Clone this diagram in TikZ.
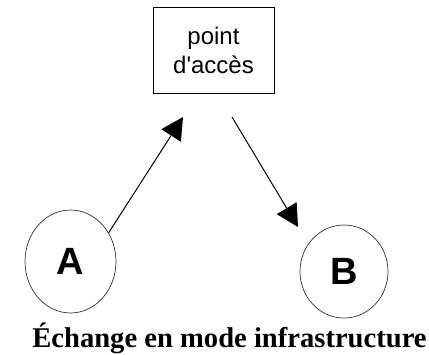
\documentclass[tikz,border=0pt]{standalone}
\usepackage{fontspec}
\setmainfont{Liberation Serif}
\newfontfamily\arial{Liberation Sans}
\usetikzlibrary{arrows.meta,shapes.geometric}
\begin{document}
\begin{tikzpicture}[x=1pt, y=1pt,
		station/.style={ellipse, draw=black!80, line width=0.7pt, minimum width=91pt, minimum height=103pt, inner sep=0pt, font=\arial\bfseries\fontsize{38}{38}\selectfont},
		apbox/.style={rectangle, draw, line width=1pt, minimum width=121pt, minimum height=86pt, align=center, font=\arial\fontsize{24}{29}\selectfont},
		flow/.style={line width=1pt, -{Triangle[length=22pt, width=23pt]}}]
		\useasboundingbox (0,0) rectangle (429,-354);
		\node[apbox] (ap) at (213.5,-50) {point\\d'accès};
		\node[station] (A) at (70.5,-261.5) {A};
		\node[station, minimum width=88pt, minimum height=93pt] (B) at (344,-271.5) {B};
		\coordinate (in) at (183,-117);
		\coordinate (out) at (232,-117);
		\coordinate (toB) at (298,-227);
		\draw[flow] (A.37) -- (in);
		\draw[flow] (out) -- (toB);
		\node[font=\bfseries\fontsize{28.6}{28.6}\selectfont, anchor=base, inner sep=0pt] (title) at (229.5,-347) {Échange en mode infrastructure};
	\end{tikzpicture}
\end{document}
